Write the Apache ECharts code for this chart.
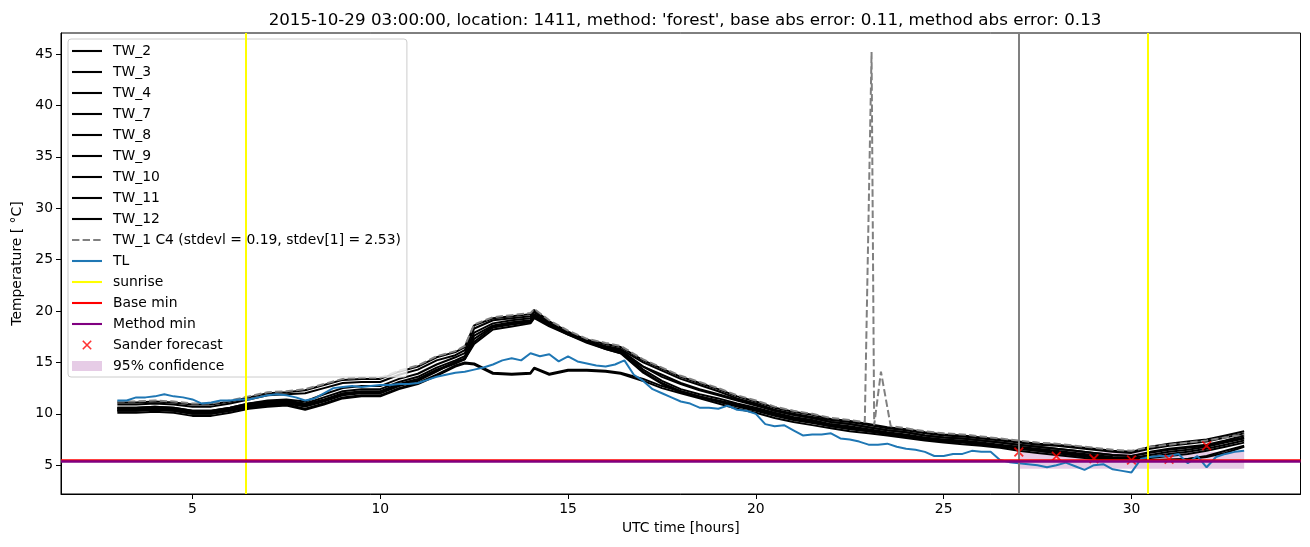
<!DOCTYPE html>
<html><head><meta charset="utf-8">
<script src="https://cdn.jsdelivr.net/npm/echarts@6/dist/echarts.min.js"></script>
<style>html,body{margin:0;padding:0;background:#fff}#c{width:1310px;height:547px}</style>
</head><body><div id="c"></div>
<script>
// ---------------- DATA ----------------
const TITLE = "2015-10-29 03:00:00, location: 1411, method: 'forest', base abs error: 0.11, method abs error: 0.13";
const X_TICKS = [5, 10, 15, 20, 25, 30];
const Y_TICKS = [5, 10, 15, 20, 25, 30, 35, 40, 45];

const HOURS_TW = [3,3.5,4,4.5,5,5.5,6,6.5,7,7.5,8,8.5,9,9.5,10,10.5,11,11.5,12,12.25,12.5,13,13.5,14,14.1,14.5,15,15.5,16,16.4,17,17.5,18,18.5,19,19.5,20,20.5,21,21.5,22,22.5,23,23.5,24,24.5,25,25.5,26,26.5,27,27.5,28,28.5,29,29.5,30,30.5,31,31.5,32,32.5,33];

const TW_2 = [11.1,11.1,11.2,11.1,10.9,10.9,11.2,11.6,12.0,12.1, 12.3,12.8,13.3,13.4,13.4,14.1,14.6,15.5,16.0,16.5, 18.6,19.3,19.5,19.7,20.1,19.0,18.0,17.2,16.8,16.5, 15.2,14.4,13.6,13.0,12.4,11.7,11.2,10.6,10.2,9.9, 9.5,9.3,9.0,8.7,8.5,8.2,8.0,7.9,7.7,7.5, 7.3,7.1,7.0,6.8,6.6,6.4,6.3,6.8,7.1,7.3, 7.5,7.9,8.3];
const TW_3 = [10.9,10.9,11.0,10.9,10.7,10.7,11.0,11.4,11.8,11.9, 12.0,12.5,13.0,13.1,13.1,13.8,14.3,15.2,15.7,16.2, 18.3,19.1,19.3,19.5,19.9,18.9,17.9,17.1,16.6,16.3, 15.0,14.2,13.4,12.8,12.2,11.5,11.0,10.4,10.0,9.7, 9.4,9.2,8.9,8.6,8.4,8.1,7.9,7.8,7.6,7.4, 7.2,7.0,6.9,6.7,6.5,6.3,6.2,6.6,6.9,7.1, 7.3,7.7,8.1];
const TW_4 = [10.6,10.6,10.7,10.6,10.3,10.3,10.6,11.0,11.3,11.4, 11.2,11.9,12.5,12.7,12.7,13.4,13.9,14.8,15.5,15.9, 17.9,18.8,19.1,19.3,19.7,18.8,17.8,17.0,16.5,16.2, 14.6,13.6,12.9,12.3,11.8,11.3,10.8,10.3,9.9,9.6, 9.2,9.0,8.7,8.4,8.2,7.9,7.7,7.6,7.4,7.2, 7.0,6.8,6.6,6.4,6.2,6.0,5.9,6.3,6.6,6.8, 7.0,7.4,7.9];
const TW_7 = [10.6,10.6,10.7,10.6,10.3,10.3,10.6,11.0,11.2,11.3, 11.0,11.6,12.2,12.4,12.4,13.1,13.6,14.5,15.2,15.6, 17.6,18.6,18.9,19.1,19.6,18.7,17.8,17.0,16.4,16.1, 14.3,13.2,12.4,11.9,11.5,11.0,10.6,10.1,9.7,9.4, 9.0,8.8,8.5,8.2,8.0,7.7,7.5,7.4,7.2,7.0, 6.8,6.6,6.4,6.2,6.0,5.8,5.7,6.0,6.3,6.5, 6.8,7.2,7.6];
const TW_8 = [10.5,10.5,10.6,10.5,10.2,10.2,10.5,10.9,11.1,11.2, 10.9,11.4,12.0,12.2,12.2,12.9,13.4,14.3,15.0,15.4, 17.3,18.5,18.8,19.0,19.5,18.7,17.8,17.0,16.4,16.0, 14.1,13.0,12.2,11.7,11.3,10.9,10.5,10.0,9.6,9.3, 8.9,8.7,8.4,8.1,7.9,7.6,7.4,7.3,7.1,6.9, 6.7,6.5,6.3,6.1,5.9,5.7,5.6,5.8,6.1,6.3, 6.6,7.0,7.4];
const TW_9 = [10.3,10.3,10.4,10.3,10.0,10.0,10.3,10.6,10.8,10.9, 10.5,11.0,11.6,11.8,11.8,12.5,13.0,13.8,14.7,15.0, 14.9,14.0,13.9,14.0,14.5,13.9,14.3,14.3,14.2,14.0, 13.4,12.7,12.2,11.7,11.2,10.7,10.3,9.8,9.4,9.1, 8.8,8.5,8.3,8.1,7.85,7.6,7.4,7.25,7.1,6.9, 6.6,6.4,6.2,5.95,5.75,5.6,5.55,5.5,5.55,5.6, 5.9,6.4,6.9];
const TW_10 = [10.1,10.1,10.2,10.1,9.8,9.8,10.1,10.5,10.7,10.8, 10.4,10.9,11.5,11.7,11.7,12.4,12.9,13.7,14.6,14.9, 14.8,13.9,13.8,13.9,14.4,13.8,14.2,14.2,14.1,13.9, 13.2,12.5,12.0,11.5,11.0,10.5,10.1,9.6,9.2,8.9, 8.6,8.3,8.1,7.9,7.65,7.4,7.2,7.05,6.9,6.7, 6.4,6.2,6.0,5.8,5.6,5.5,5.45,5.45,5.5,5.6, 5.8,6.2,6.8];
const TW_11 = [10.4,10.4,10.5,10.4,10.1,10.1,10.4,10.8,11.0,11.1, 10.8,11.3,11.9,12.1,12.1,12.8,13.3,14.2,14.9,15.3, 17.0,18.4,18.7,18.9,19.4,18.6,17.7,17.0,16.3,15.9, 14.6,13.8,13.0,12.4,11.9,11.4,10.9,10.3,9.9,9.6, 9.2,9.0,8.7,8.4,8.2,7.9,7.7,7.6,7.4,7.2, 7.0,6.8,6.6,6.4,6.2,6.0,5.9,6.2,6.5,6.7, 6.9,7.3,7.7];
const TW_12 = [10.3,10.3,10.4,10.3,10.0,10.0,10.3,10.7,10.9,11.0, 10.7,11.2,11.8,12.0,12.0,12.7,13.2,14.1,15.1,15.3, 16.8,18.2,18.5,18.8,19.3,18.5,17.7,16.9,16.3,15.9, 14.0,12.9,12.1,11.6,11.2,10.8,10.4,9.9,9.5,9.2, 8.8,8.6,8.3,8.0,7.8,7.5,7.3,7.2,7.0,6.8, 6.6,6.4,6.2,6.0,5.8,5.6,5.5,5.7,5.9,6.1, 6.4,6.8,7.2];

const HOURS_TW_1 = [3,3.5,4,4.5,5,5.5,6,6.5,7,7.5,8,8.5,9,9.5,10,10.5,11,11.5,12,12.25,12.5,13,13.5,14,14.1,14.5,15,15.5,16,16.4,17,17.5,18,18.5,19,19.5,20,20.5,21,21.5,22,22.5,22.9,23.08,23.15,23.33,23.59,24,24.5,25,25.5,26,26.5,27,27.5,28,28.5,29,29.5,30,30.5,31,31.5,32,32.5,33];
const TW_1 = [11.2,11.2,11.3,11.2,11.0,11.0,11.3,11.7,12.1,12.2, 12.4,12.9,13.4,13.5,13.5,14.2,14.7,15.6,16.1,16.6, 18.7,19.4,19.6,19.8,20.2,19.1,18.1,17.3,16.9,16.6, 15.3,14.5,13.7,13.1,12.5,11.8,11.3,10.7,10.3,10.0, 9.6,9.4, 9.2,45.2,8.9,14.1,8.8, 8.6,8.3,8.1,8.0,7.8,7.6,7.4,7.2,7.1,6.9,6.7,6.5,6.4,6.8,7.0,7.2,7.4,7.7,8.0];

const HOURS_TL = [3,3.25,3.5,3.75,4,4.25,4.5,4.75,5,5.25,5.5,5.75,6,6.25,6.5,6.75,7,7.25,7.5,7.75,8,8.25,8.5,8.75,9,9.25,9.5,9.75,10,10.25,10.5,10.75,11,11.25,11.5,11.75,12,12.25,12.5,12.75,13,13.25,13.5,13.75,14,14.25,14.5,14.75,15,15.25,15.5,15.75,16,16.25,16.5,16.75,17,17.25,17.5,17.75,18,18.25,18.5,18.75,19,19.25,19.5,19.75,20,20.25,20.5,20.75,21,21.25,21.5,21.75,22,22.25,22.5,22.75,23,23.25,23.5,23.75,24,24.25,24.5,24.75,25,25.25,25.5,25.75,26,26.25,26.5,26.75,27,27.25,27.5,27.75,28,28.25,28.5,28.75,29,29.25,29.5,29.75,30,30.25,30.5,30.75,31,31.25,31.5,31.75,32,32.25,32.5,32.75,33];
const TL = [11.3,11.3,11.6,11.6, 11.7,11.9,11.7,11.6, 11.4,11.0,11.1,11.3, 11.3,11.4,11.4,11.6, 11.8,11.9,11.8,11.6, 11.3,11.5,12.0,12.5, 12.6,12.7,12.6,12.7, 12.8,12.8,12.9,12.9, 13.0,13.3,13.6,13.8, 14.0,14.1,14.3,14.5, 14.8,15.2,15.4,15.2, 15.9,15.6,15.8,15.1, 15.6,15.1,14.9,14.7, 14.6,14.8,15.2,13.8, 13.2,12.4,12.0,11.6, 11.2,11.0,10.6,10.6, 10.5,10.8,10.4,10.3, 10.0,9.0,8.8,8.9, 8.4,7.9,8.0,8.0, 8.1,7.6,7.5,7.3, 7.0,7.0,7.1,6.8, 6.6,6.5,6.3,5.9, 5.9,6.1,6.1,6.4, 6.3,6.3,5.5,5.3, 5.2,5.1,5.0,4.8, 5.0,5.25,4.9,4.55, 5.0,5.1,4.6,4.45, 4.3,5.6,5.8,5.9, 5.9,6.1,5.2,5.9, 4.8,5.8,6.1,6.3, 6.4];

const SUNRISE = [6.42, 30.44];
const FORECAST_TIME = [27.0];
const BASE_MIN = 5.47;
const METHOD_MIN = 5.41;
const SANDER_HOURS = [27, 28, 29, 30, 31, 32];
const SANDER = [6.29, 5.87, 5.64, 5.51, 5.58, 6.9];
const CONF_HOURS = [27, 33];
const CONF_LOW = 4.65;
const CONF_HIGH = 6.3;

const TW1_NAME = 'TW_1 C4 (stdevl = 0.19, stdev[1] = 2.53)';

// ---------------- CHART ----------------
const FONT = 'DejaVu Sans';
const pairs = (xs, ys) => xs.map((x, i) => [x, ys[i]]);
const blackNames = ['TW_2','TW_3','TW_4','TW_7','TW_8','TW_9','TW_10','TW_11','TW_12'];
const blackData = [TW_2,TW_3,TW_4,TW_7,TW_8,TW_9,TW_10,TW_11,TW_12];

const svgIcon = (body) => 'image://data:image/svg+xml;utf8,' + encodeURIComponent(
  '<svg xmlns="http://www.w3.org/2000/svg" width="30" height="14" viewBox="0 0 30 14">' + body + '</svg>');
const lineIcon = (color, dash) => svgIcon('<line x1="0" y1="7" x2="30" y2="7" stroke="' + color +
  '" stroke-width="2.1"' + (dash ? ' stroke-dasharray="' + dash + '"' : '') + '/>');
const xIcon = svgIcon('<path d="M10.8,2.8 L19.2,11.2 M10.8,11.2 L19.2,2.8" stroke="#ff0000" stroke-width="1.6" fill="none"/>');
const rectIcon = svgIcon('<rect x="0" y="2" width="30" height="10" fill="#e6cce6"/>');
const X_SYMBOL = 'path://M0,1.3L1.3,0L5,3.7L8.7,0L10,1.3L6.3,5L10,8.7L8.7,10L5,6.3L1.3,10L0,8.7L3.7,5Z';

const series = [];
series.push({
  type: 'line', name: '95% confidence', data: [], z: 1,
  itemStyle: { color: '#e6cce6' },
  markArea: { silent: true, itemStyle: { color: '#e6cce6' },
    data: [[{ xAxis: CONF_HOURS[0], yAxis: CONF_LOW }, { xAxis: CONF_HOURS[1], yAxis: CONF_HIGH }]] }
});
blackNames.forEach((n, i) => series.push({
  type: 'line', name: n, data: pairs(HOURS_TW, blackData[i]), symbol: 'none', showSymbol: false,
  lineStyle: { color: '#000', width: 2 }, itemStyle: { color: '#000' }, z: 2
}));
series.push({
  type: 'line', name: TW1_NAME, data: pairs(HOURS_TW_1, TW_1), symbol: 'none', showSymbol: false,
  lineStyle: { color: '#808080', width: 2, type: [7.4, 3.2] }, itemStyle: { color: '#808080' }, z: 2
});
series.push({
  type: 'line', name: 'TL', data: pairs(HOURS_TL, TL), symbol: 'none', showSymbol: false,
  lineStyle: { color: '#1f77b4', width: 2 }, itemStyle: { color: '#1f77b4' }, z: 2
});
const vline = (name, vals, color, w) => ({
  type: 'line', name: name, data: [], itemStyle: { color: color }, lineStyle: { color: color, width: w }, z: 3,
  markLine: { silent: true, symbol: ['none', 'none'], label: { show: false }, animation: false,
    lineStyle: { color: color, width: w, type: 'solid' }, data: vals.map(v => ({ xAxis: v })) }
});
const hline = (name, val, color, w) => ({
  type: 'line', name: name, data: [], itemStyle: { color: color }, lineStyle: { color: color, width: w }, z: 3,
  markLine: { silent: true, symbol: ['none', 'none'], label: { show: false }, animation: false,
    lineStyle: { color: color, width: w, type: 'solid' }, data: [{ yAxis: val }] }
});
series.push(vline('sunrise', SUNRISE, '#ffff00', 2));
series.push(vline('forecast time', FORECAST_TIME, '#808080', 2));
series.push(hline('Base min', BASE_MIN, '#ff0000', 2.5));
series.push(hline('Method min', METHOD_MIN, '#800080', 2.5));
series.push({
  type: 'scatter', name: 'Sander forecast', data: pairs(SANDER_HOURS, SANDER), symbol: X_SYMBOL, symbolSize: 10,
  itemStyle: { color: '#ff0000' }, z: 4
});

const legendData = blackNames.map(n => ({ name: n, icon: lineIcon('#000000') }));
legendData.push({ name: TW1_NAME, icon: lineIcon('#808080', '7.4 3.2') });
legendData.push({ name: 'TL', icon: lineIcon('#1f77b4') });
legendData.push({ name: 'sunrise', icon: lineIcon('#ffff00') });
legendData.push({ name: 'Base min', icon: lineIcon('#ff0000') });
legendData.push({ name: 'Method min', icon: lineIcon('#800080') });
legendData.push({ name: 'Sander forecast', icon: xIcon });
legendData.push({ name: '95% confidence', icon: rectIcon });

const chart = echarts.init(document.getElementById('c'), null, { renderer: 'canvas' });
chart.setOption({
  animation: false,
  backgroundColor: '#ffffff',
  textStyle: { fontFamily: FONT },
  title: { text: TITLE, left: 680, top: 7, textAlign: 'center',
    textStyle: { fontFamily: FONT, fontSize: 16.7, fontWeight: 'normal', color: '#000' } },
  grid: { left: 61, right: 9.5, top: 33, bottom: 53, show: true, borderColor: '#000', borderWidth: 1,
    backgroundColor: 'transparent', containLabel: false, outerBoundsMode: 'none' },
  legend: {
    orient: 'vertical', left: 68, top: 39, itemWidth: 30, itemHeight: 14, itemGap: 7,
    padding: [5, 6, 4, 4], backgroundColor: 'rgba(255,255,255,0.8)', borderColor: '#cccccc',
    borderWidth: 1, borderRadius: 3,
    textStyle: { fontFamily: FONT, fontSize: 13.9, color: '#000', padding: [0, 0, 0, 6] },
    data: legendData
  },
  xAxis: {
    type: 'value', min: 1.5, max: 34.5,
    name: 'UTC time [hours]', nameLocation: 'middle', nameGap: 27,
    nameTextStyle: { fontFamily: FONT, fontSize: 13.9, color: '#000' },
    axisLine: { onZero: false, lineStyle: { color: '#000', width: 1 } },
    axisTick: { show: true, length: 5, lineStyle: { color: '#000' }, customValues: X_TICKS },
    axisLabel: { customValues: X_TICKS, color: '#000', fontSize: 13.9, fontFamily: FONT, margin: 8 },
    splitLine: { show: false }
  },
  yAxis: {
    type: 'value', min: 2.2, max: 47.05,
    name: 'Temperature [ °C]', nameLocation: 'middle', nameGap: 37,
    nameTextStyle: { fontFamily: FONT, fontSize: 13.9, color: '#000' },
    axisLine: { show: true, onZero: false, lineStyle: { color: '#000', width: 1 } },
    axisTick: { show: true, length: 5, lineStyle: { color: '#000' }, customValues: Y_TICKS },
    axisLabel: { customValues: Y_TICKS, color: '#000', fontSize: 13.9, fontFamily: FONT, margin: 8 },
    splitLine: { show: false }
  },
  series: series
});
</script></body></html>
